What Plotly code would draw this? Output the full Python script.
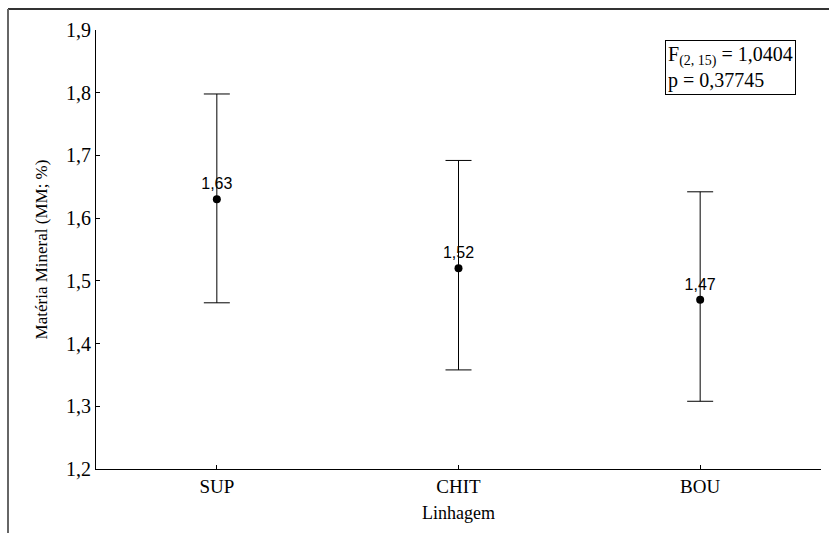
import plotly.graph_objects as go

# Mineral matter (%) by strain: mean with confidence interval limits
linhagens = ["SUP", "CHIT", "BOU"]
medias = [1.63, 1.52, 1.47]
limite_sup = [1.798, 1.692, 1.642]
limite_inf = [1.465, 1.358, 1.308]
yticks = [1.2, 1.3, 1.4, 1.5, 1.6, 1.7, 1.8, 1.9]

err_plus = [u - m for u, m in zip(limite_sup, medias)]
err_minus = [m - l for m, l in zip(medias, limite_inf)]
rotulos = [f"{m:.2f}".replace(".", ",") for m in medias]

serif = "Liberation Serif, Times New Roman, serif"
sans = "Liberation Sans, Arial, sans-serif"

fig = go.Figure()
fig.add_trace(go.Scatter(
    x=linhagens, y=medias,
    mode="markers+text",
    marker=dict(color="black", size=8, symbol="circle"),
    text=rotulos, textposition="top center",
    textfont=dict(family=sans, size=16, color="black"),
    error_y=dict(type="data", symmetric=False, array=err_plus, arrayminus=err_minus,
                 color="black", thickness=1, width=13),
    showlegend=False, cliponaxis=False,
))

fig.update_layout(
    width=829, height=533,
    margin=dict(l=96, r=8, t=30, b=64),
    paper_bgcolor="white", plot_bgcolor="white",
    separators=",.",
    font=dict(family=serif, color="black"),
    xaxis=dict(
        range=[-0.5, 2.5], showgrid=False, zeroline=False,
        showline=True, linecolor="black", linewidth=1,
        ticks="inside", ticklen=4, tickcolor="black",
        tickfont=dict(family=serif, size=19),
        title=dict(text="Linhagem", font=dict(family=serif, size=18), standoff=10),
    ),
    yaxis=dict(
        range=[1.2, 1.9], tickvals=yticks, tickformat=".1f",
        showgrid=False, zeroline=False,
        showline=True, linecolor="black", linewidth=1,
        ticks="inside", ticklen=4, tickcolor="black",
        tickfont=dict(family=serif, size=20),
        title=dict(text="Matéria Mineral (MM; %)", font=dict(family=serif, size=17), standoff=14),
    ),
    annotations=[dict(
        xref="paper", yref="paper", x=(665 - 96) / 725, y=(469 - 40) / 439,
        xanchor="left", yanchor="top", align="left", showarrow=False,
        text="F<sub>(2, 15)</sub> = 1,0404<br>p = 0,37745",
        font=dict(family=serif, size=20, color="black"),
        bordercolor="black", borderwidth=1, borderpad=2, bgcolor="white",
    )],
    shapes=[
        dict(type="line", xref="paper", yref="paper",
             x0=(8 - 96) / 725, x1=(829 - 96) / 725,
             y0=(469 - 9) / 439, y1=(469 - 9) / 439,
             line=dict(color="#333", width=2)),
        dict(type="line", xref="paper", yref="paper",
             x0=(8 - 96) / 725, x1=(8 - 96) / 725,
             y0=(469 - 9) / 439, y1=(469 - 533) / 439,
             line=dict(color="#666", width=2)),
    ],
)

fig.write_html("out.html")
